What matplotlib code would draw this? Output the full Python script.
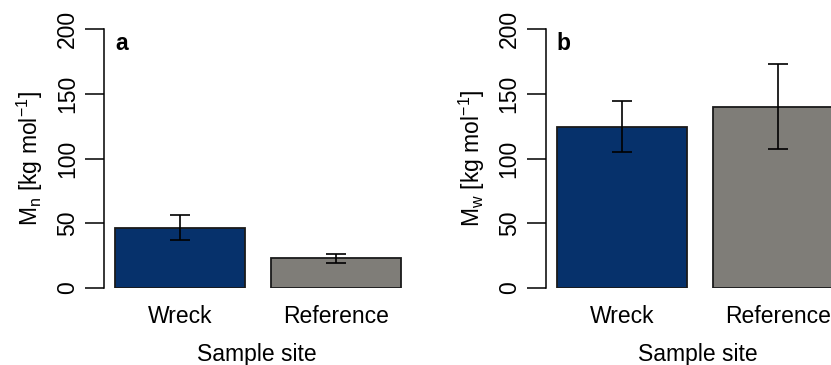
import matplotlib
matplotlib.use("Agg")
import matplotlib.pyplot as plt

plt.rcParams["font.family"] = ["Liberation Sans", "DejaVu Sans"]
plt.rcParams["mathtext.fontset"] = "custom"
plt.rcParams["mathtext.rm"] = "Liberation Sans"
plt.rcParams["mathtext.it"] = "Liberation Sans"
plt.rcParams["mathtext.default"] = "regular"

sites = ["Wreck", "Reference"]
mn_mean = [46.6, 23.0]
mn_err = [9.6, 3.6]
mw_mean = [124.7, 139.8]
mw_err = [20.0, 32.8]
y_ticks = [0, 50, 100, 150, 200]
colors = ["#06316b", "#7f7d78"]

W, H = 831, 365
fig = plt.figure(figsize=(W / 100, H / 100), dpi=100)

FS = 16.5
x_pos = [0.7, 1.9]
xlim = (0.115, 2.46)
px_per_unit = 130.0
ax_w = (xlim[1] - xlim[0]) * px_per_unit / W
ax_b = (H - 288) / H
ax_h = (288 - 29) / H


def panel(left_px, means, errs, ylabel, tag):
    ax = fig.add_axes([left_px / W, ax_b, ax_w, ax_h])
    ax.bar(x_pos, means, width=1.0, color=colors, edgecolor="#1a1a1a",
           linewidth=1.3, zorder=2)
    ax.errorbar(x_pos, means, yerr=errs, fmt="none", ecolor="black",
                elinewidth=1.2, capsize=7.5, capthick=1.2, zorder=3)
    ax.set_xlim(*xlim)
    ax.set_ylim(0, 200)
    for s in ["top", "right", "bottom"]:
        ax.spines[s].set_visible(False)
    ax.spines["left"].set_linewidth(1.1)
    ax.spines["left"].set_bounds(0, 200)
    ax.set_yticks(y_ticks)
    ax.set_yticklabels([str(t) for t in y_ticks], rotation=90, va="center",
                       fontsize=FS)
    ax.tick_params(axis="y", length=14, width=1.1, pad=4)
    ax.set_xticks(x_pos)
    ax.set_xticklabels(sites, fontsize=FS)
    ax.tick_params(axis="x", length=0, pad=12)
    ax.set_xlabel("Sample site", fontsize=FS, labelpad=11)
    ax.set_ylabel(ylabel, fontsize=FS, labelpad=8)
    ax.text(0.2, 189, tag, fontsize=FS, fontweight="bold", ha="left",
            va="center")
    return ax


panel(104, mn_mean, mn_err, r"M$_{n}$ [kg mol$^{-1}$]", "a")
panel(545.7, mw_mean, mw_err, r"M$_{w}$ [kg mol$^{-1}$]", "b")

fig.savefig("out.png", dpi=100)
